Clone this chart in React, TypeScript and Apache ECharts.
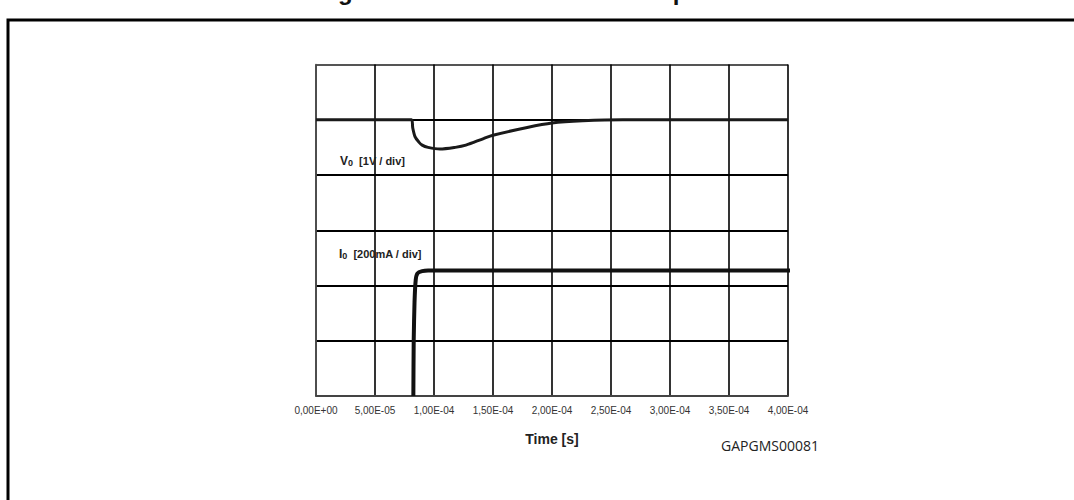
import React, { useEffect, useRef } from "react";
import * as echarts from "echarts";

const xStep = 5e-5;
const xTickLabels = [
  "0,00E+00", "5,00E-05", "1,00E-04", "1,50E-04", "2,00E-04",
  "2,50E-04", "3,00E-04", "3,50E-04", "4,00E-04",
];

// V0 trace (1 V / div)
const v0Time = [0, 8.1e-5, 8.2e-5, 8.4e-5, 8.7e-5, 9.0e-5, 9.5e-5, 1.05e-4, 1.18e-4, 1.27e-4, 1.42e-4, 1.5e-4, 1.79e-4, 2.0e-4, 2.26e-4, 2.6e-4, 4.0e-4];
const v0Div = [5.0, 5.0, 4.85, 4.69, 4.6, 4.54, 4.5, 4.47, 4.5, 4.54, 4.66, 4.72, 4.86, 4.94, 4.98, 5.0, 5.0];

// I0 trace (200 mA / div)
const i0Time = [8.25e-5, 8.28e-5, 8.35e-5, 8.45e-5, 8.6e-5, 9.0e-5, 9.5e-5, 4.03e-4];
const i0Div = [0, 1.0, 1.7, 2.1, 2.22, 2.26, 2.27, 2.27];

export default function App() {
  const ref = useRef<HTMLDivElement>(null);
  useEffect(() => {
    document.body.style.margin = "0";
    if (!ref.current) return;
    const chart = echarts.init(ref.current, null, { renderer: "svg" });
    const v0 = v0Time.map((t, i) => [t, v0Div[i]]);
    const i0 = i0Time.map((t, i) => [t, i0Div[i]]);
    chart.setOption({
      animation: false,
      backgroundColor: "#fff",
      grid: { left: 316, right: 286, top: 64.5, bottom: 104, containLabel: false },
      xAxis: {
        type: "value",
        min: 0,
        max: 4e-4,
        interval: xStep,
        name: "Time [s]",
        nameLocation: "middle",
        nameGap: 36,
        nameTextStyle: { fontFamily: "Liberation Sans", fontWeight: "bold", fontSize: 14, color: "#222" },
        axisLine: { show: true, lineStyle: { color: "#444", width: 2 } },
        axisTick: { show: false },
        axisLabel: {
          fontFamily: "Liberation Sans",
          fontSize: 10,
          color: "#333",
          margin: 9,
          formatter: (v: number) => xTickLabels[Math.round(v / xStep)] ?? "",
        },
        splitLine: { show: true, lineStyle: { color: "#000", width: 1.6 } },
      },
      yAxis: {
        type: "value",
        min: 0,
        max: 6,
        interval: 1,
        axisLine: { show: true, onZero: false, lineStyle: { color: "#555", width: 1.6 } },
        axisTick: { show: false },
        axisLabel: { show: false },
        splitLine: {
          show: true,
          lineStyle: { color: ["#555", "#000", "#000", "#000", "#000", "#000", "#555"], width: 1.8 },
        },
      },
      series: [
        {
          name: "V0",
          type: "line",
          data: v0,
          smooth: 0.3,
          showSymbol: false,
          lineStyle: { color: "#1a1a1a", width: 3 },
          z: 3,
        },
        {
          name: "I0",
          type: "line",
          data: i0,
          smooth: 0.2,
          showSymbol: false,
          clip: false,
          lineStyle: { color: "#111", width: 4 },
          z: 3,
        },
      ],
      graphic: [
        {
          type: "rect",
          shape: { x: 8, y: 20, width: 1200, height: 700 },
          style: { fill: "none", stroke: "#000", lineWidth: 3 },
          silent: true,
        },
        {
          type: "text",
          x: 530,
          y: 3,
          style: {
            text: "Figure 9. Full load transient response",
            fontFamily: "Liberation Sans",
            fontWeight: "bold",
            fontSize: 24,
            fill: "#111",
            textAlign: "center",
            textVerticalAlign: "bottom",
          },
        },
        {
          type: "text",
          x: 340,
          y: 161,
          z: 10,
          style: {
            text: "{a|V}{b|0}{c|  [1V / div]}",
            textVerticalAlign: "middle",
            rich: {
              a: { fontFamily: "Liberation Sans", fontWeight: "bold", fontSize: 12, fill: "#222" },
              b: { fontFamily: "Liberation Sans", fontWeight: "bold", fontSize: 9, fill: "#222", verticalAlign: "bottom" },
              c: { fontFamily: "Liberation Sans", fontWeight: "bold", fontSize: 11, fill: "#222" },
            },
          },
        },
        {
          type: "text",
          x: 339,
          y: 254,
          z: 10,
          style: {
            text: "{a|I}{b|0}{c|  [200mA / div]}",
            textVerticalAlign: "middle",
            rich: {
              a: { fontFamily: "Liberation Sans", fontWeight: "bold", fontSize: 12, fill: "#222" },
              b: { fontFamily: "Liberation Sans", fontWeight: "bold", fontSize: 9, fill: "#222", verticalAlign: "bottom" },
              c: { fontFamily: "Liberation Sans", fontWeight: "bold", fontSize: 11, fill: "#222" },
            },
          },
        },
        {
          type: "text",
          x: 770,
          y: 445,
          style: {
            text: "GAPGMS00081",
            fontFamily: "Open Sans",
            fontSize: 14,
            fill: "#222",
            textAlign: "center",
            textVerticalAlign: "middle",
          },
        },
      ],
    });
    return () => chart.dispose();
  }, []);
  return <div ref={ref} style={{ width: 1074, height: 500 }} />;
}
